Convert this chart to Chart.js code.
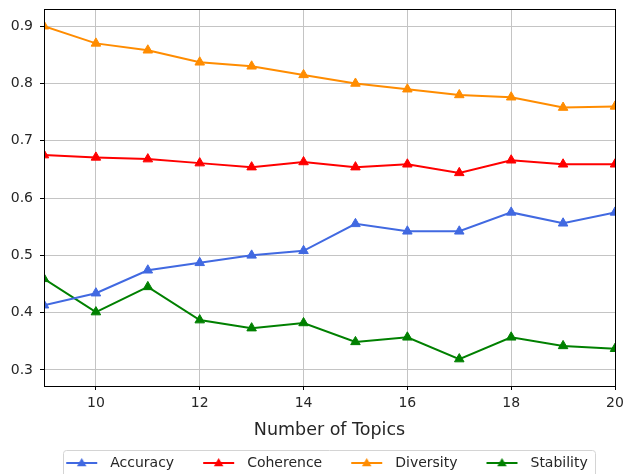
<!DOCTYPE html>
<html><head><meta charset="utf-8">
<script src="https://cdn.jsdelivr.net/npm/chart.js@4.4.0/dist/chart.umd.min.js"></script>
<style>html,body{margin:0;padding:0;background:#fff;overflow:hidden}#wrap{position:relative;width:635px;height:480px}</style>
</head><body><div id="wrap"><canvas id="c"></canvas></div>
<script>
const topics = [9, 10, 11, 12, 13, 14, 15, 16, 17, 18, 19, 20];
const accuracy = [0.413, 0.434, 0.474, 0.487, 0.500, 0.508, 0.555, 0.542, 0.542, 0.575, 0.556, 0.575];
const coherence = [0.675, 0.671, 0.668, 0.661, 0.654, 0.663, 0.654, 0.659, 0.644, 0.666, 0.659, 0.659];
const diversity = [0.900, 0.870, 0.858, 0.837, 0.830, 0.815, 0.800, 0.790, 0.780, 0.776, 0.758, 0.760];
const stability = [0.459, 0.401, 0.445, 0.387, 0.373, 0.382, 0.349, 0.357, 0.319, 0.357, 0.342, 0.337];
const xTicks = [10, 12, 14, 16, 18, 20];
const yTicks = [0.3, 0.4, 0.5, 0.6, 0.7, 0.8, 0.9];
const seriesNames = ['Accuracy', 'Coherence', 'Diversity', 'Stability'];
const seriesColors = ['#4169E1', '#FF0000', '#FF8C00', '#008000'];
const seriesData = [accuracy, coherence, diversity, stability];

const FONT = "'DejaVu Sans', sans-serif";

function makeIcon(color) {
  const c = document.createElement('canvas');
  c.width = 56; c.height = 14;
  const g = c.getContext('2d');
  g.strokeStyle = color; g.lineWidth = 2;
  g.beginPath(); g.moveTo(19, 7); g.lineTo(50, 7); g.stroke();
  const cx = 34.5, cy = 7.5, r = 5.5;
  g.fillStyle = color;
  g.beginPath();
  for (let i = 0; i < 3; i++) {
    const a = i * 2 * Math.PI / 3;
    const px = cx + Math.sin(a) * r, py = cy - Math.cos(a) * r;
    if (i === 0) g.moveTo(px, py); else g.lineTo(px, py);
  }
  g.closePath(); g.fill();
  return c;
}

const frame = {
  id: 'frame',
  afterDraw(chart) {
    const {ctx, chartArea: a} = chart;
    ctx.save();
    ctx.strokeStyle = '#000'; ctx.lineWidth = 1;
    ctx.strokeRect(Math.round(a.left) + 0.5, Math.round(a.top) + 0.5, Math.round(a.right - a.left), Math.round(a.bottom - a.top));
    const lg = chart.legend;
    if (lg && lg.legendHitBoxes && lg.legendHitBoxes.length) {
      const hb = lg.legendHitBoxes;
      const x0 = hb[0].left + 16, x1 = hb[hb.length - 1].left + hb[hb.length - 1].width + 7;
      const yc = hb[0].top + hb[0].height / 2;
      const y0 = yc - 13, y1 = yc + 20;
      ctx.strokeStyle = '#d4d4d4'; ctx.lineWidth = 1;
      ctx.beginPath();
      ctx.roundRect(Math.round(x0) + 0.5, Math.round(y0) + 0.5, Math.round(x1 - x0), Math.round(y1 - y0), 3);
      ctx.stroke();
    }
    ctx.restore();
  }
};

new Chart(document.getElementById('c'), {
  type: 'line',
  data: {
    datasets: seriesNames.map((n, i) => ({
      label: n,
      data: topics.map((t, j) => ({x: t, y: seriesData[i][j]})),
      borderColor: seriesColors[i],
      backgroundColor: seriesColors[i],
      borderWidth: 2,
      pointStyle: 'triangle',
      pointRadius: 5.5,
      pointBorderWidth: 1,
      pointHoverRadius: 5.5,
      tension: 0,
      clip: 0
    }))
  },
  plugins: [frame],
  options: {
    responsive: true,
    maintainAspectRatio: false,
    animation: false,
    layout: {padding: {left: 0, right: 0, top: 9, bottom: 0}},
    plugins: {
      tooltip: {enabled: false},
      legend: {
        position: 'bottom',
        labels: {
          font: {family: FONT, size: 14},
          color: '#262626',
          usePointStyle: true,
          pointStyleWidth: 56,
          padding: 10,
          generateLabels(chart) {
            return chart.data.datasets.map((d, i) => ({
              text: d.label,
              pointStyle: makeIcon(seriesColors[i]),
              fillStyle: seriesColors[i],
              strokeStyle: seriesColors[i],
              lineWidth: 0,
              hidden: false,
              datasetIndex: i,
              fontColor: '#262626'
            }));
          }
        }
      }
    },
    scales: {
      x: {
        type: 'linear',
        min: 9, max: 20,
        afterBuildTicks(s) { s.ticks = xTicks.map(v => ({value: v})); },
        afterFit(s) { s.height = 60; s.paddingLeft = 0; s.paddingRight = 0; },
        grid: {color: '#c4c4c4', lineWidth: 1, tickLength: 4, tickColor: '#000', drawTicks: true},
        border: {display: true, color: '#000', width: 1},
        ticks: {font: {family: FONT, size: 14}, color: '#262626', padding: 5, maxRotation: 0, autoSkip: false},
        title: {display: true, text: 'Number of Topics', font: {family: FONT, size: 17.5}, color: '#262626', padding: {top: 4, bottom: 5}}
      },
      y: {
        type: 'linear',
        min: 0.272, max: 0.93,
        afterBuildTicks(s) { s.ticks = yTicks.map(v => ({value: v})); },
        afterFit(s) { s.width = 44; s.paddingTop = 0; s.paddingBottom = 0; },
        grid: {color: '#c4c4c4', lineWidth: 1, tickLength: 4, tickColor: '#000', drawTicks: true},
        border: {display: true, color: '#000', width: 1},
        ticks: {font: {family: FONT, size: 14}, color: '#262626', padding: 7, autoSkip: false, callback: v => v.toFixed(1)}
      },
      yRight: {
        type: 'linear',
        position: 'right',
        min: 0, max: 1,
        display: true,
        afterFit(s) { s.width = 20; s.paddingTop = 0; s.paddingBottom = 0; },
        grid: {display: false, drawOnChartArea: false, drawTicks: false},
        border: {display: false},
        ticks: {display: false}
      }
    }
  }
});
</script>
</body></html>
